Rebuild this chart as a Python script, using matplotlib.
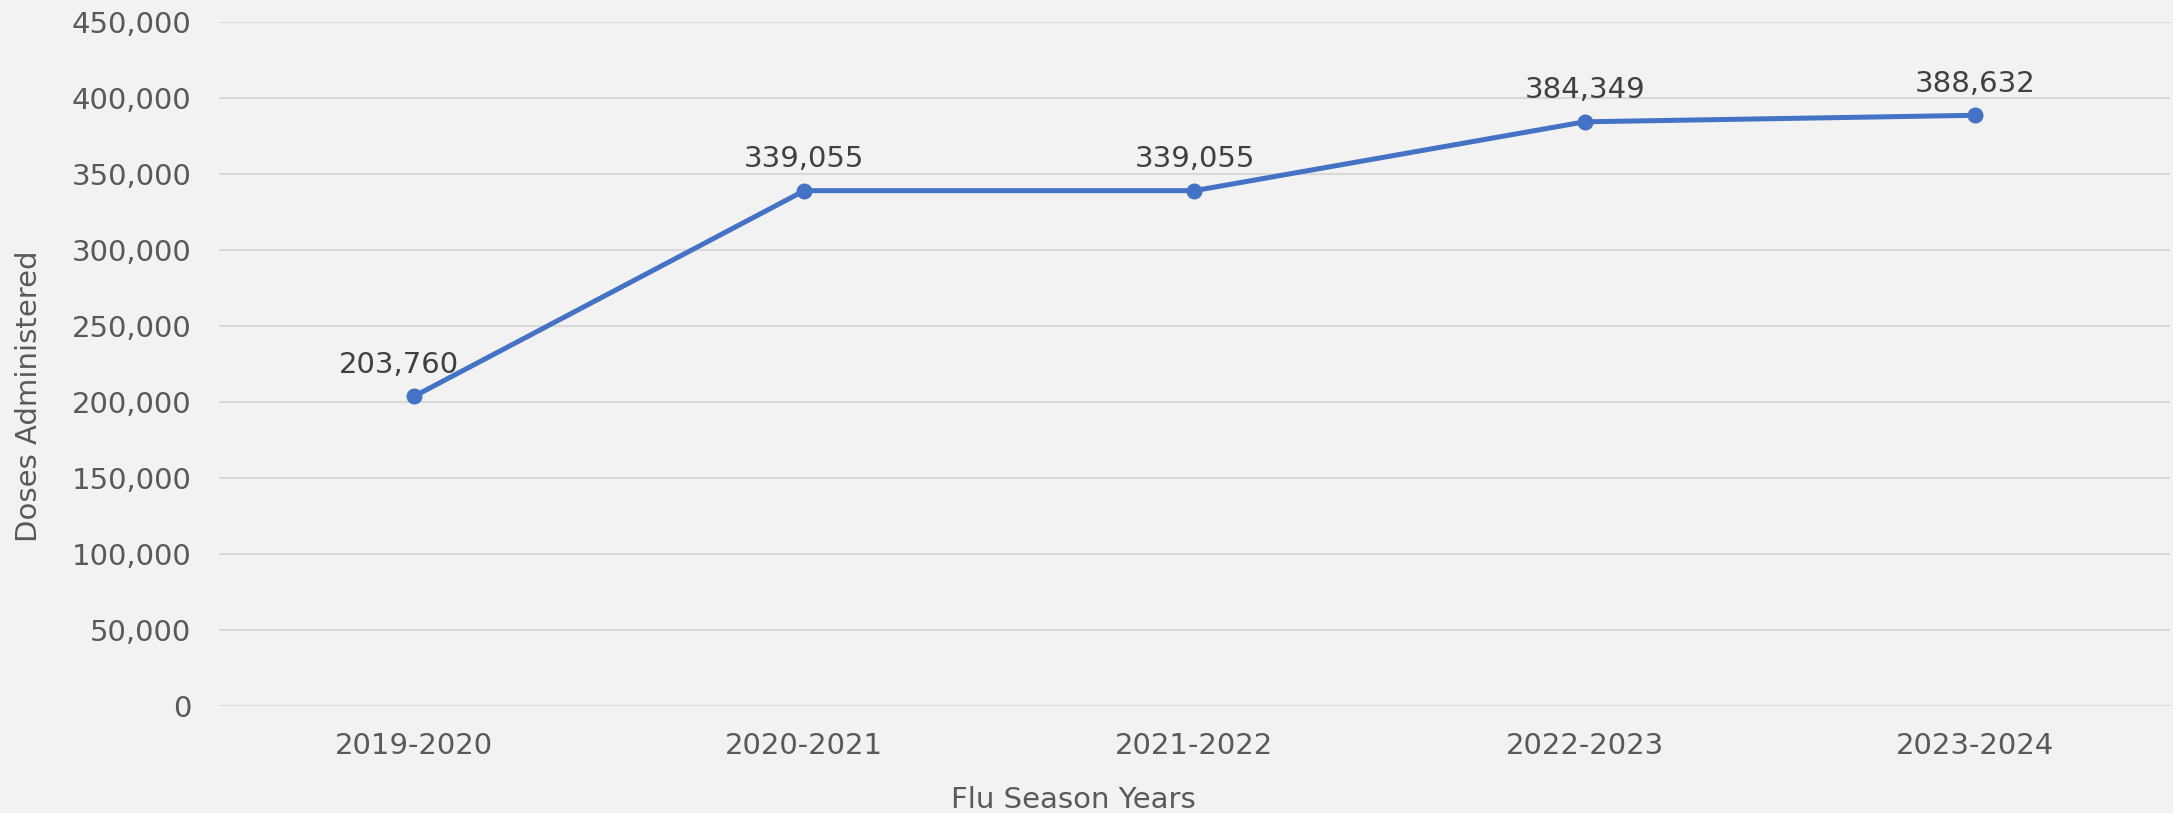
import matplotlib
matplotlib.use("Agg")
import matplotlib.pyplot as plt
from matplotlib.ticker import FuncFormatter

seasons = ["2019-2020", "2020-2021", "2021-2022", "2022-2023", "2023-2024"]
doses = [203760, 339055, 339055, 384349, 388632]

BG = "#f2f2f2"
LINE = "#4472c4"
GRID = "#d9d9d9"
TICK_COLOR = "#595959"
LABEL_COLOR = "#404040"

plt.rcParams["font.family"] = ["DejaVu Sans"]

fig = plt.figure(figsize=(21.73, 8.13), dpi=100, facecolor=BG)
ax = fig.add_axes([0.1008, 0.1316, 0.8978, 0.8413], facecolor=BG)

x = list(range(len(seasons)))
ax.plot(x, doses, color=LINE, linewidth=3.6, marker="o", markersize=10.5, zorder=3)

# data labels above each point
for i, v in enumerate(doses):
    dx = -11 if i == 0 else 0
    ax.annotate(f"{v:,}", (i, v), xytext=(dx, 17), textcoords="offset points",
                ha="center", va="baseline", fontsize=21, color=LABEL_COLOR)

ax.set_xlim(-0.5, len(seasons) - 0.5)
ax.set_ylim(0, 450000)
ax.set_yticks(range(0, 450001, 50000))
ax.yaxis.set_major_formatter(FuncFormatter(lambda v, _: f"{int(v):,}"))
ax.set_xticks(x)
ax.set_xticklabels(seasons)

ax.grid(axis="y", color=GRID, linewidth=1.5)
ax.set_axisbelow(True)
for s in ax.spines.values():
    s.set_visible(False)

ax.tick_params(axis="y", length=0, pad=20, labelsize=21, labelcolor=TICK_COLOR)
ax.tick_params(axis="x", length=0, pad=19, labelsize=21, labelcolor=TICK_COLOR)

# axis titles sit near the figure centre, like the source chart
fig.text(0.494, 0.006, "Flu Season Years", fontsize=21, color=TICK_COLOR,
         ha="center", va="baseline")
fig.text(0.0135, 0.513, "Doses Administered", fontsize=21, color=TICK_COLOR,
         ha="center", va="center", rotation=90)

fig.savefig("out.png", dpi=100, facecolor=BG)
